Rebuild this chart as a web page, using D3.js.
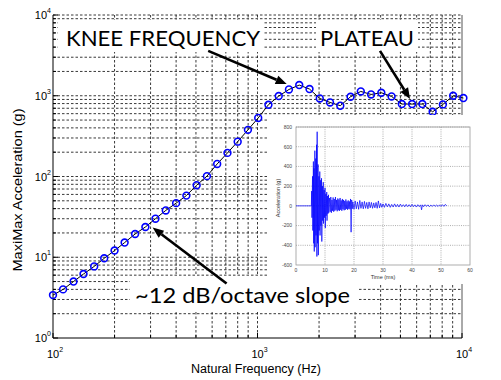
<!DOCTYPE html>
<html>
<head>
<meta charset="utf-8">
<script src="https://cdn.jsdelivr.net/npm/d3@7"></script>
<style>
  body { margin: 0; background: #fff; }
  svg { display: block; }
</style>
</head>
<body>
<svg id="chart" width="501" height="380"></svg>
<script>
'use strict'

// main plot: 1/6 octave natural frequencies (Hz) and maximax acceleration (g)
const freqHz = [100, 112, 126, 141, 159, 178, 200, 224, 252, 283,
	317, 356, 400, 449, 504, 566, 635, 713, 800, 898,
	1008, 1131, 1270, 1425, 1600, 1796, 2016, 2263, 2540, 2851,
	3200, 3592, 4032, 4525, 5080, 5702, 6400, 7184, 8063, 9051, 10159]
const maxiMaxG = [3.4, 4.0, 5.0, 6.2, 7.7, 9.7, 12.1, 15.2, 19.4, 23.7,
	30, 38, 46.8, 58, 78, 101, 143, 196, 270, 378,
	531, 774, 991, 1196, 1356, 1210, 926, 826, 753, 972,
	1130, 1038, 1089, 980, 789, 789, 789, 633, 781, 1000, 937]

const xDecades = [100, 1000, 10000]
const yDecades = [1, 10, 100, 1000, 10000]
const decadeSteps = [1, 2, 3, 4, 5, 6, 7, 8, 9]

// inset: time history (ms, g), peaks
const traceT = [
	0, 5.3, 5.4, 5.5, 5.7, 5.8, 6.0, 6.1, 6.2, 6.3,
	6.5, 6.6, 6.8, 6.9, 7.1, 7.2, 7.3, 7.4, 7.6, 7.7,
	7.9, 8.0, 8.2, 8.3, 8.5, 8.6, 8.8, 8.9, 9.1, 9.2,
	9.4, 9.5, 9.7, 9.8, 10.0, 10.1, 10.3, 10.4, 10.6, 10.7,
	10.9, 11.0, 11.2, 11.3, 11.6, 11.8, 12.0, 12.2, 12.4, 12.6,
	12.8, 13.0, 13.2, 13.4, 13.6, 13.8, 14.0, 14.2, 14.4, 14.6,
	14.8, 15.0, 15.2, 15.4, 15.6, 15.8, 16.0, 16.2, 16.4, 16.6,
	16.8, 17.0, 17.2, 17.4, 17.6, 17.8, 18.0, 18.2, 18.4, 18.6,
	18.8, 19.0, 19.2, 19.4, 19.6, 20.0, 20.4, 20.8, 21.2, 21.6,
	22.0, 22.4, 22.8, 23.2, 23.6, 24.0, 24.4, 24.8, 25.2, 25.6,
	26.0, 26.4, 26.8, 27.2, 27.6, 28.0, 28.4, 28.8, 29.2, 29.6,
	30.0, 30.5, 31.0, 31.5, 32.0, 32.5, 33.0, 33.5, 34.0, 34.5,
	35.0, 35.5, 36.0, 36.5, 37.0, 37.5, 38.0, 38.5, 39.0, 39.5,
	40.0, 40.5, 41.0, 41.5, 42.0, 42.5, 43.0, 43.3, 43.6, 44.0,
	44.5, 45.0, 45.5, 46.0, 46.5, 47.0, 47.5, 48.0, 48.5, 49.0,
	49.5, 50.0, 50.5, 51.0, 51.5, 52.0]
const traceA = [
	0, 0, 150, -120, 300, -250, 450, -380, 380, -463,
	560, -420, 480, -300, 620, -514, 752, -380, 420, -500,
	300, -250, 348, -300, 260, -200, 280, -362, 200, -150,
	240, -180, 160, -120, 183, -225, 120, -100, 140, -150,
	100, -80, 112, -70, 80, -60, 90, -70, 60, -50,
	85, -60, 70, -50, 90, -40, 60, -55, 75, -45,
	65, -50, 80, -40, 55, -50, 70, -35, 60, -45,
	50, -40, 65, -30, 45, -40, 55, -30, 45, -35,
	70, -267, 60, -30, 40, -35, 50, -30, 40, -35,
	55, -25, 40, -30, 45, -25, 35, -30, 40, -20,
	35, -25, 30, -20, 35, -25, 50, -20, 25, -15,
	20, -15, 25, -10, 20, -15, 15, -12, 20, -10,
	15, -12, 18, -8, 12, -10, 15, -8, 12, -10,
	15, -8, 10, -12, 12, -8, 10, -40, 10, -8,
	12, -6, 10, -8, 8, -6, 10, -5, 8, -6,
	10, -5, 12, -5, 15, 0]
const insetXTicks = [0, 10, 20, 30, 40, 50, 60]
const insetYTicks = [-600, -400, -200, 0, 200, 400, 600, 800]

const svg = d3.select('#chart')

let x = d3.scaleLog().domain([100, 10000]).range([53, 462])
let y = d3.scaleLog().domain([1, 10000]).range([338, 15])

let xMinor = []
xDecades.slice(0, -1).forEach(function(d){
	decadeSteps.forEach(function(m){ xMinor.push(d * m) })
})
xMinor.push(10000)
let yMinor = []
yDecades.slice(0, -1).forEach(function(d){
	decadeSteps.forEach(function(m){ yMinor.push(d * m) })
})
yMinor.push(10000)

// grid
let grid = svg.append('g')
	.attr('stroke', '#222')
	.attr('stroke-width', 0.9)
	.attr('stroke-dasharray', '2.5,2')
grid.selectAll('.gx').data(xMinor.slice(1, -1)).join('line')
	.attr('x1', d => x(d)).attr('x2', d => x(d))
	.attr('y1', y(10000)).attr('y2', y(1))
grid.selectAll('.gy').data(yMinor.slice(1)).join('line')
	.attr('x1', x(100)).attr('x2', x(10000))
	.attr('y1', d => y(d)).attr('y2', d => y(d))

// axes frame
svg.append('line').attr('x1', x(10000)).attr('x2', x(10000))
	.attr('y1', y(10000)).attr('y2', y(1)).attr('stroke', '#555')
svg.append('line').attr('x1', x(100)).attr('x2', x(100))
	.attr('y1', y(10000)).attr('y2', y(1)).attr('stroke', '#000')
svg.append('line').attr('x1', x(100)).attr('x2', x(10000))
	.attr('y1', y(1)).attr('y2', y(1)).attr('stroke', '#000')

// inward ticks
let ticks = svg.append('g').attr('stroke', '#000')
ticks.selectAll('.tx').data(xMinor).join('line')
	.attr('x1', d => x(d)).attr('x2', d => x(d))
	.attr('y1', y(1)).attr('y2', d => y(1) - (xDecades.includes(d) ? 5 : 3))
ticks.selectAll('.ty').data(yMinor).join('line')
	.attr('y1', d => y(d)).attr('y2', d => y(d))
	.attr('x1', x(100)).attr('x2', d => x(100) + (yDecades.includes(d) ? 5 : 3))

// tick labels 10^n
function powLabel(g, px, py, exp, anchor){
	let t = g.append('text')
		.attr('x', px).attr('y', py)
		.attr('text-anchor', anchor)
		.attr('font-family', 'Arial, "Liberation Sans", sans-serif')
		.attr('font-size', 11).attr('fill', '#000')
	t.append('tspan').text('10')
	t.append('tspan').attr('font-size', 7).attr('dy', -6).text(exp)
}
let labels = svg.append('g')
yDecades.forEach(function(d){
	powLabel(labels, 51, y(d) + 4, Math.round(Math.log10(d)), 'end')
})
xDecades.forEach(function(d){
	powLabel(labels, x(d) + 2, 358, Math.round(Math.log10(d)), 'middle')
})

svg.append('text')
	.attr('x', 256).attr('y', 373)
	.attr('text-anchor', 'middle')
	.attr('font-family', 'Arial, "Liberation Sans", sans-serif')
	.attr('font-size', 12.5).attr('fill', '#000')
	.text('Natural Frequency (Hz)')
svg.append('text')
	.attr('transform', 'translate(22,190) rotate(-90)')
	.attr('text-anchor', 'middle')
	.attr('font-family', 'Arial, "Liberation Sans", sans-serif')
	.attr('font-size', 13).attr('fill', '#000')
	.attr('textLength', 163).attr('lengthAdjust', 'spacingAndGlyphs')
	.text('MaxiMax Acceleration (g)')

// data
let srs = freqHz.map((f, i) => [f, maxiMaxG[i]])
svg.append('path')
	.datum(srs)
	.attr('fill', 'none').attr('stroke', '#000').attr('stroke-width', 1)
	.attr('d', d3.line().x(d => x(d[0])).y(d => y(d[1])))
svg.append('g').selectAll('circle').data(srs).join('circle')
	.attr('cx', d => x(d[0])).attr('cy', d => y(d[1])).attr('r', 3.4)
	.attr('fill', 'none').attr('stroke', '#0000ff').attr('stroke-width', 1.6)

// white boxes behind annotations / inset
let boxes = [
	{x: 58, y: 20, w: 205, h: 32},
	{x: 316, y: 20, w: 102, h: 32},
	{x: 130, y: 276, w: 228, h: 35},
	{x: 268, y: 115, w: 208, h: 169}
]
svg.append('g').selectAll('rect').data(boxes).join('rect')
	.attr('x', d => d.x).attr('y', d => d.y).attr('width', d => d.w).attr('height', d => d.h)
	.attr('fill', '#fff')

// inset chart
let ix = d3.scaleLinear().domain([0, 60]).range([296, 470])
let iy = d3.scaleLinear().domain([-600, 800]).range([265, 127])
let inset = svg.append('g')
let igrid = inset.append('g').attr('stroke', '#777').attr('stroke-width', 0.6)
	.attr('stroke-dasharray', '1,1.2')
igrid.selectAll('.ix').data(insetXTicks.slice(1, -1)).join('line')
	.attr('x1', d => ix(d)).attr('x2', d => ix(d)).attr('y1', iy(800)).attr('y2', iy(-600))
igrid.selectAll('.iy').data(insetYTicks.slice(1)).join('line')
	.attr('x1', ix(0)).attr('x2', ix(60)).attr('y1', d => iy(d)).attr('y2', d => iy(d))
inset.append('rect')
	.attr('x', ix(0)).attr('y', iy(800))
	.attr('width', ix(60) - ix(0)).attr('height', iy(-600) - iy(800))
	.attr('fill', 'none').attr('stroke', '#999').attr('stroke-width', 0.8)

inset.append('path')
	.datum(traceT.map((t, i) => [t, traceA[i]]))
	.attr('fill', 'none').attr('stroke', '#0000ff').attr('stroke-width', 0.7)
	.attr('d', d3.line().x(d => ix(d[0])).y(d => iy(d[1])))

let ifont = 'Arial, "Liberation Sans", sans-serif'
inset.selectAll('.ixl').data(insetXTicks).join('text')
	.attr('x', d => ix(d)).attr('y', 271.5)
	.attr('text-anchor', 'middle').attr('font-family', ifont)
	.attr('font-size', 5).attr('fill', '#444')
	.text(d => d)
inset.selectAll('.iyl').data(insetYTicks).join('text')
	.attr('x', 292).attr('y', d => iy(d) + 1.8)
	.attr('text-anchor', 'end').attr('font-family', ifont)
	.attr('font-size', 5).attr('fill', '#444')
	.text(d => d)
inset.append('text')
	.attr('x', 383).attr('y', 279)
	.attr('text-anchor', 'middle').attr('font-family', ifont)
	.attr('font-size', 5.5).attr('fill', '#333')
	.text('Time (ms)')
inset.append('text')
	.attr('transform', 'translate(280,198) rotate(-90)')
	.attr('text-anchor', 'middle').attr('font-family', ifont)
	.attr('font-size', 5.5).attr('fill', '#333')
	.text('Acceleration (g)')

// annotations
let afont = 'Lato, "Open Sans", sans-serif'
let notes = [
	{text: 'KNEE FREQUENCY', x: 66, y: 46, len: 194},
	{text: 'PLATEAU', x: 320, y: 46, len: 94},
	{text: '~12 dB/octave slope', x: 135, y: 303, len: 215}
]
svg.append('g').selectAll('text').data(notes).join('text')
	.attr('x', d => d.x).attr('y', d => d.y)
	.attr('font-family', afont).attr('font-size', 22).attr('fill', '#000')
	.attr('textLength', d => d.len).attr('lengthAdjust', 'spacingAndGlyphs')
	.text(d => d.text)

// arrows: tail and tip in data units (Hz, g)
let arrows = [
	{from: [574, 3594], to: [1389, 1394]},
	{from: [3972, 3594], to: [5572, 910]},
	{from: [706, 4.73], to: [307, 23.3]}
]
let ag = svg.append('g')
arrows.forEach(function(a){
	let x1 = x(a.from[0]), y1 = y(a.from[1])
	let x2 = x(a.to[0]), y2 = y(a.to[1])
	let ang = Math.atan2(y2 - y1, x2 - x1)
	let hl = 11, hw = 4.5
	let bx = x2 - hl * Math.cos(ang), by = y2 - hl * Math.sin(ang)
	ag.append('line')
		.attr('x1', x1).attr('y1', y1).attr('x2', bx).attr('y2', by)
		.attr('stroke', '#000').attr('stroke-width', 2.6)
	ag.append('path')
		.attr('d', 'M' + x2 + ',' + y2 +
			'L' + (bx + hw * Math.sin(ang)) + ',' + (by - hw * Math.cos(ang)) +
			'L' + (bx - hw * Math.sin(ang)) + ',' + (by + hw * Math.cos(ang)) + 'Z')
		.attr('fill', '#000')
})
</script>
</body>
</html>
